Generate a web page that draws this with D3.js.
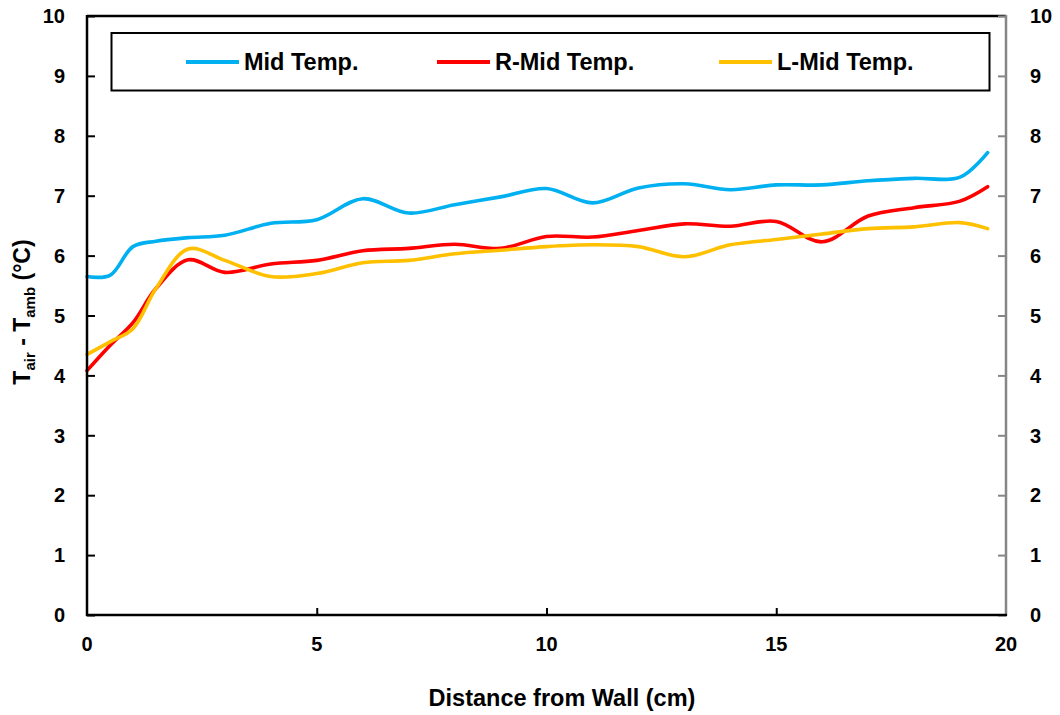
<!DOCTYPE html>
<html>
<head>
<meta charset="utf-8">
<script src="https://cdn.jsdelivr.net/npm/d3@7/dist/d3.min.js"></script>
<style>
  html, body { margin: 0; padding: 0; background: #fff; }
  svg { display: block; }
  text { font-family: "Liberation Sans", Arial, sans-serif; font-weight: bold; fill: #000; }
</style>
</head>
<body>
<svg id="chart" width="1060" height="715"></svg>
<script>
// Distance from wall (cm) at each measurement position
const distance = [0, 0.5, 1, 1.5, 2.2, 3, 4, 5, 6, 7, 8, 9, 10, 11, 12, 13, 14, 15, 16, 17, 18, 19, 19.6];

// Temperature rise above ambient (°C)
const midTemp  = [5.65, 5.67, 6.15, 6.24, 6.3, 6.34, 6.54, 6.6, 6.95, 6.71, 6.85, 6.98, 7.12, 6.88, 7.13, 7.2, 7.1, 7.18, 7.18, 7.25, 7.29, 7.31, 7.72];
const rMidTemp = [4.08, 4.5, 4.88, 5.45, 5.93, 5.72, 5.86, 5.92, 6.08, 6.12, 6.19, 6.12, 6.32, 6.31, 6.42, 6.53, 6.49, 6.57, 6.23, 6.66, 6.8, 6.91, 7.15];
const lMidTemp = [4.35, 4.56, 4.78, 5.45, 6.11, 5.92, 5.65, 5.7, 5.88, 5.92, 6.03, 6.09, 6.15, 6.18, 6.15, 5.98, 6.18, 6.27, 6.36, 6.45, 6.48, 6.55, 6.45];

const seriesNames = ["Mid Temp.", "R-Mid Temp.", "L-Mid Temp."];
const seriesColors = ["#00B0F0", "#FF0000", "#FFC000"];
const xTicks = [0, 5, 10, 15, 20];
const yTicks = [0, 1, 2, 3, 4, 5, 6, 7, 8, 9, 10];

const svg = d3.select("#chart");
const plotL = 87, plotR = 1006, plotT = 16, plotB = 615;

const x = d3.scaleLinear().domain([0, 20]).range([plotL, plotR]);
const y = d3.scaleLinear().domain([0, 10]).range([plotB, plotT]);

// Data lines (smoothed)
const series = [midTemp, rMidTemp, lMidTemp];
const line = d3.line()
  .x(d => x(d[0]))
  .y(d => y(d[1]))
  .curve(d3.curveCatmullRom.alpha(0.5));

series.forEach((vals, i) => {
  svg.append("path")
    .datum(distance.map((d, j) => [d, vals[j]]))
    .attr("d", line)
    .attr("fill", "none")
    .attr("stroke", seriesColors[i])
    .attr("stroke-width", 3.6)
    .attr("stroke-linecap", "round");
});

// Top border
svg.append("line")
  .attr("x1", plotL).attr("x2", plotR).attr("y1", plotT).attr("y2", plotT)
  .attr("stroke", "#000").attr("stroke-width", 2.5);

// Left axis
const yLeft = svg.append("g").attr("transform", `translate(${plotL},0)`)
  .call(d3.axisRight(y).tickValues(yTicks).tickSize(8).tickFormat(""));
yLeft.select(".domain").attr("stroke", "#000").attr("stroke-width", 2.5)
  .attr("d", `M0,${plotT - 1}V${plotB + 1}`);
yLeft.selectAll(".tick line").attr("stroke", "#000").attr("stroke-width", 2);
svg.append("g").selectAll("text").data(yTicks).join("text")
  .attr("x", 65).attr("y", d => y(d)).attr("dy", "0.36em")
  .attr("text-anchor", "end").attr("font-size", 20).text(d => d);

// Right axis (grey)
const yRight = svg.append("g").attr("transform", `translate(${plotR},0)`)
  .call(d3.axisLeft(y).tickValues(yTicks).tickSize(8).tickFormat(""));
yRight.select(".domain").attr("stroke", "#868686").attr("stroke-width", 2.5)
  .attr("d", `M0,${plotT - 1}V${plotB + 1}`);
yRight.selectAll(".tick line").attr("stroke", "#868686").attr("stroke-width", 2);
svg.append("g").selectAll("text").data(yTicks).join("text")
  .attr("x", 1030).attr("y", d => y(d)).attr("dy", "0.36em")
  .attr("text-anchor", "start").attr("font-size", 20).text(d => d);

// Bottom axis
const xAxis = svg.append("g").attr("transform", `translate(0,${plotB})`)
  .call(d3.axisTop(x).tickValues(xTicks).tickSize(7).tickFormat(""));
xAxis.select(".domain").attr("stroke", "#000").attr("stroke-width", 2.5)
  .attr("d", `M${plotL - 1},0H${plotR + 1}`);
xAxis.selectAll(".tick line").attr("stroke", "#000").attr("stroke-width", 2);
xAxis.selectAll(".tick").filter(d => d === 0 || d === 20).select("line").remove();
svg.append("g").selectAll("text").data(xTicks).join("text")
  .attr("x", d => x(d)).attr("y", 651)
  .attr("text-anchor", "middle").attr("font-size", 20).text(d => d);

// Axis titles
svg.append("text")
  .attr("x", 562).attr("y", 706)
  .attr("text-anchor", "middle").attr("font-size", 23.5)
  .text("Distance from Wall (cm)");

const yTitle = svg.append("text")
  .attr("transform", "translate(30,312) rotate(-90)")
  .attr("text-anchor", "middle").attr("font-size", 23);
yTitle.append("tspan").text("T");
yTitle.append("tspan").attr("font-size", 15).attr("dy", 5).text("air");
yTitle.append("tspan").attr("dy", -5).text(" - T");
yTitle.append("tspan").attr("font-size", 15).attr("dy", 5).text("amb");
yTitle.append("tspan").attr("dy", -5).text(" (°C)");

// Legend
const legend = svg.append("g");
legend.append("rect")
  .attr("x", 111.5).attr("y", 33).attr("width", 878).attr("height", 57.5)
  .attr("fill", "#fff").attr("stroke", "#000").attr("stroke-width", 2);
const legendX = [186, 437, 719];
seriesNames.forEach((name, i) => {
  legend.append("line")
    .attr("x1", legendX[i]).attr("x2", legendX[i] + 53)
    .attr("y1", 62).attr("y2", 62)
    .attr("stroke", seriesColors[i]).attr("stroke-width", 4);
  legend.append("text")
    .attr("x", legendX[i] + 58).attr("y", 70)
    .attr("font-size", 23.5).text(name);
});
</script>
</body>
</html>
